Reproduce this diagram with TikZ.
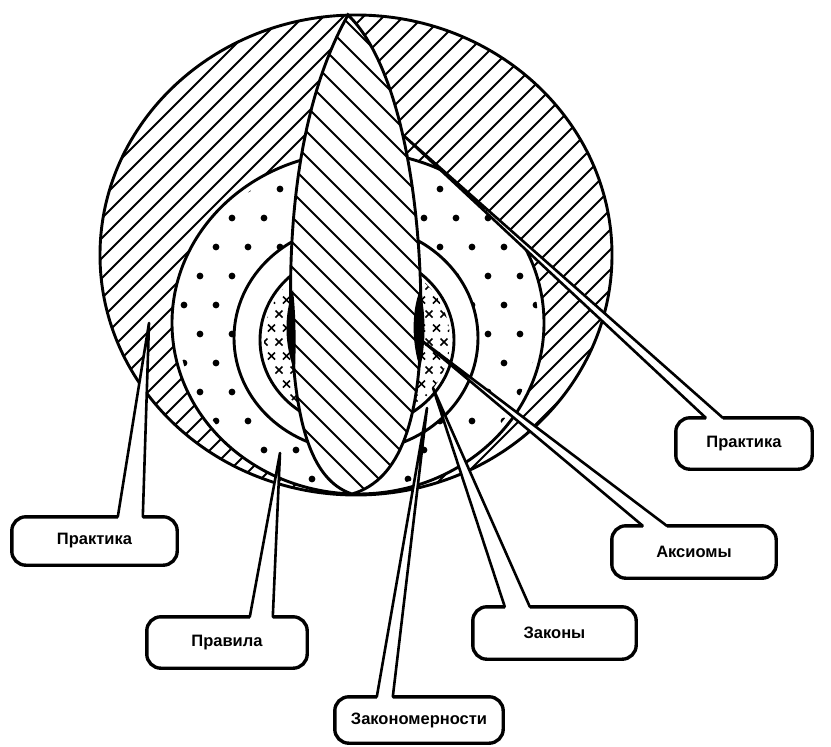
\documentclass[tikz,border=0pt]{standalone}
\usepackage{fontspec}
\setmainfont{Liberation Sans}
\usetikzlibrary{calc}
\begin{document}
\begin{tikzpicture}[x=1pt,y=-1pt,
  outl/.style={line width=2.9pt},
  hatch/.style={line width=2pt},
  crossst/.style={line width=1.6pt},
  lbl/.style={font=\fontsize{16.5}{19}\selectfont\bfseries, inner sep=0pt},
  callout/.style={line width=3.4pt, rounded corners=14pt, line join=round},
  ptr/.style={line width=2.6pt, line join=round, line cap=round}]
\useasboundingbox (0,0) rectangle (831,747);
\fill[white] (0,0) rectangle (831,747);

% ---- label nodes
\node[lbl, minimum width=165, minimum height=48] (prL) at (94.5,541) {Практика};
\node[lbl, minimum width=160, minimum height=51] (pra) at (227,642.5) {Правила};
\node[lbl, minimum width=168, minimum height=46] (zkm) at (419,720) {Закономерности};
\node[lbl, minimum width=163, minimum height=52] (zak) at (554.5,633) {Законы};
\node[lbl, minimum width=164, minimum height=52] (aks) at (694,552) {Аксиомы};
\node[lbl, minimum width=136, minimum height=51] (prR) at (744,443.5) {Практика};

% pointer bases and tips
\coordinate (prLa) at ($(prL.north west)+(106,0)$);
\coordinate (prLb) at ($(prL.north west)+(131,0)$);
\coordinate (prLt) at (149,323);
\coordinate (praa) at ($(pra.north west)+(103,0)$);
\coordinate (prab) at ($(pra.north west)+(126,0)$);
\coordinate (prat) at (280,453);
\coordinate (zkma) at ($(zkm.north west)+(42,0)$);
\coordinate (zkmb) at ($(zkm.north west)+(58,0)$);
\coordinate (zkmt) at (427,408);
\coordinate (zaka) at ($(zak.north west)+(32,0)$);
\coordinate (zakb) at ($(zak.north west)+(57,0)$);
\coordinate (zakt) at (433,388);
\coordinate (aksa) at ($(aks.north west)+(31,0)$);
\coordinate (aksb) at ($(aks.north west)+(55,0)$);
\coordinate (akst) at (421,340);
\coordinate (prRa) at ($(prR.north west)+(30,0)$);
\coordinate (prRb) at ($(prR.north west)+(47,0)$);
\coordinate (prRt) at (403,135);

% ---- outer ring hatching
\begin{scope}
  \clip (356,255) ellipse [x radius=256, y radius=240];
  \foreach \c in {80,100,...,1160} \draw[hatch] (\c,0) -- (\c-800,800);
\end{scope}

% ---- dotted ring
\begin{scope}
  \clip (0,0) -- (390,0) -- (403,135) -- (858,560) -- (858,800) -- (0,800) -- cycle;
  \fill[white] (358,323) ellipse [x radius=186, y radius=171];
  \clip (358,323) ellipse [x radius=180, y radius=165];
  \foreach \r in {0,...,12} {
    \foreach \k in {0,...,13} {
      \fill ({168+\k*32+mod(\r,2)*16},{160+\r*29}) circle [radius=3.4];
    }
  }
\end{scope}

% ---- white ring and crossed core
\fill[white] (356,338) ellipse [x radius=122, y radius=113];
\fill[white] (357,340) ellipse [x radius=97, y radius=88];
\begin{scope}
  \clip (357,340) ellipse [x radius=93, y radius=84];
  \foreach \r in {0,...,12} {
    \foreach \k in {0,...,13} {
      \draw[crossst] ({264+\k*15+mod(\r,2)*7.5-3.5},{258+\r*14-3.5}) -- ++(7,7)
                     ({264+\k*15+mod(\r,2)*7.5+3.5},{258+\r*14-3.5}) -- ++(-7,7);
    }
  }
\end{scope}

% ---- ring outlines
\begin{scope}
  \clip (0,0) -- (390,0) -- (403,135) -- (858,560) -- (858,800) -- (0,800) -- cycle;
  \draw[outl] (358,323) ellipse [x radius=186, y radius=171];
\end{scope}
\draw[outl] (356,338) ellipse [x radius=122, y radius=113];
\draw[outl] (357,340) ellipse [x radius=97, y radius=88];

% ---- lens
\fill[white] (348,15) .. controls (300,100) and (288,220) .. (291,320)
   .. controls (294,420) and (310,480) .. (352,494)
   .. controls (400,480) and (422,420) .. (421,310)
   .. controls (420,180) and (395,60) .. (348,15) -- cycle;
\begin{scope}
  \clip (348,15) .. controls (300,100) and (288,220) .. (291,320)
   .. controls (294,420) and (310,480) .. (352,494)
   .. controls (400,480) and (422,420) .. (421,310)
   .. controls (420,180) and (395,60) .. (348,15) -- cycle;
  \foreach \c in {-500,-475,...,475} \draw[hatch] (\c,0) -- (\c+800,800);
\end{scope}
\draw[outl] (348,15) .. controls (300,100) and (288,220) .. (291,320)
   .. controls (294,420) and (310,480) .. (352,494)
   .. controls (400,480) and (422,420) .. (421,310)
   .. controls (420,180) and (395,60) .. (348,15) -- cycle;

% dark blobs along the lens edges
\fill (293,290) .. controls (284,315) and (284,345) .. (295,372)
   .. controls (296,345) and (296,315) .. cycle;
\fill (420,290) .. controls (411,312) and (412,345) .. (420,368)
   .. controls (426,345) and (426,312) .. cycle;

% ---- outer outline
\draw[outl] (356,255) ellipse [x radius=256, y radius=240];

% ---- pointers (white interiors)
\fill[white] (prLa) -- (prLt) -- (prLb) -- cycle;
\fill[white] (praa) -- (prat) -- (prab) -- cycle;
\fill[white] (zkma) -- (zkmt) -- (zkmb) -- cycle;
\fill[white] (zaka) -- (zakt) -- (zakb) -- cycle;
\fill[white] (aksa) -- (akst) -- (aksb) -- cycle;
\fill[white] (prRa) -- (prRt) -- (prRb) -- cycle;

\draw[ptr] (prLa) -- (prLt) -- (prLb);
\draw[ptr] (praa) -- (prat) -- (prab);
\draw[ptr] (zkma) -- (zkmt) -- (zkmb);
\draw[ptr] (zaka) -- (zakt) -- (zakb);
\draw[ptr] (aksa) -- (akst) -- (aksb);
\draw[ptr] (prRa) -- (prRt) -- (prRb);

% ---- callout boxes
\draw[callout] (prLb) -- (prL.north east) -- (prL.south east) -- (prL.south west) -- (prL.north west) -- (prLa);
\draw[callout] (prab) -- (pra.north east) -- (pra.south east) -- (pra.south west) -- (pra.north west) -- (praa);
\draw[callout] (zkmb) -- (zkm.north east) -- (zkm.south east) -- (zkm.south west) -- (zkm.north west) -- (zkma);
\draw[callout] (zakb) -- (zak.north east) -- (zak.south east) -- (zak.south west) -- (zak.north west) -- (zaka);
\draw[callout] (aksb) -- (aks.north east) -- (aks.south east) -- (aks.south west) -- (aks.north west) -- (aksa);
\draw[callout] (prRb) -- (prR.north east) -- (prR.south east) -- (prR.south west) -- (prR.north west) -- (prRa);
\end{tikzpicture}
\end{document}
